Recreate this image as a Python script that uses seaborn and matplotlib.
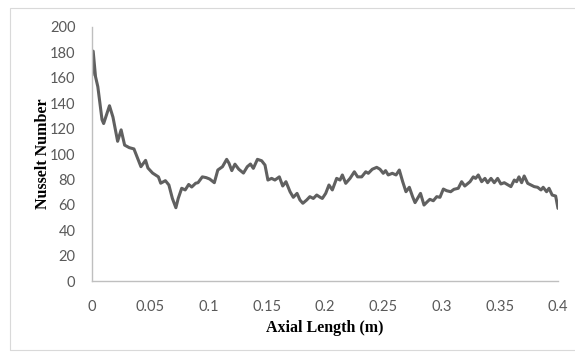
import numpy as np
import pandas as pd
import seaborn as sns
import matplotlib.pyplot as plt
from matplotlib.patches import Rectangle

# Nusselt number along the axial length
axial_length = [0.0, 0.001, 0.003, 0.005, 0.0086, 0.010, 0.015, 0.018, 0.022, 0.025,
                0.028, 0.032, 0.036, 0.042, 0.046, 0.048, 0.052, 0.057, 0.059, 0.063,
                0.066, 0.069, 0.072, 0.074, 0.077, 0.080, 0.083, 0.0856, 0.089, 0.091,
                0.0947, 0.098, 0.101, 0.105, 0.108, 0.112, 0.1156, 0.1176, 0.120, 0.1227,
                0.126, 0.130, 0.1333, 0.136, 0.1385, 0.142, 0.1456, 0.1485, 0.151, 0.1542,
                0.157, 0.1608, 0.1637, 0.1665, 0.170, 0.1728, 0.176, 0.1785, 0.181, 0.1843,
                0.187, 0.190, 0.1929, 0.1957, 0.1977, 0.2006, 0.2034, 0.2063, 0.210, 0.2129,
                0.2149, 0.2178, 0.2215, 0.2252, 0.228, 0.2315, 0.235, 0.2372, 0.2406, 0.2444,
                0.2472, 0.250, 0.252, 0.2543, 0.2578, 0.261, 0.2638, 0.2667, 0.2695, 0.2724,
                0.2752, 0.2773, 0.280, 0.282, 0.285, 0.2878, 0.290, 0.293, 0.2959, 0.2987,
                0.3016, 0.3044, 0.3079, 0.3107, 0.3144, 0.3173, 0.320, 0.3245, 0.3273, 0.3293,
                0.3316, 0.3345, 0.3373, 0.3396, 0.3425, 0.3453, 0.3482, 0.351, 0.3539, 0.3573,
                0.3596, 0.3625, 0.3645, 0.3665, 0.3688, 0.371, 0.374, 0.3768, 0.3796, 0.3825,
                0.3854, 0.3873, 0.3902, 0.3923, 0.395, 0.398, 0.400]
nusselt = [162, 181, 161, 153, 127, 124, 138, 129, 110, 119,
           107, 105, 104, 90, 95, 89, 85, 82, 77, 79,
           75.6, 65, 57.7, 65, 73, 71.7, 76, 74, 77, 77.4,
           82, 81.4, 80.3, 77.4, 87.4, 90, 95.8, 92.7, 86.9, 92,
           88, 85, 90, 92.1, 88.7, 95.8, 94.7, 91.3, 79.5, 80.8,
           79.5, 82, 74.8, 78.2, 70.3, 65.9, 69, 63.8, 61.2, 63.8,
           66.4, 65, 67.7, 66, 65, 69, 75.6, 71.7, 80.8, 79.5,
           83.5, 76.9, 80.8, 86, 82, 82, 86, 84.8, 88, 89.5,
           88, 84.8, 86.9, 83.5, 84.8, 83.5, 87.4, 78.2, 70.3, 73.8,
           66.4, 61.7, 65.9, 69, 59.8, 62.4, 64.3, 63.2, 66.4, 65.9,
           72.4, 71.1, 70.3, 72.2, 73, 78.2, 74.8, 78.2, 82, 80.8,
           83.5, 78.2, 80.8, 77.4, 80.8, 77.4, 80.8, 76.4, 77.4, 75.6,
           74.3, 79.5, 78.2, 82, 77.4, 82.7, 76.9, 75.6, 74.3, 73.8,
           71.7, 73.8, 70.3, 73, 67.7, 66.9, 57.2]
x_ticks = [0, 0.05, 0.1, 0.15, 0.2, 0.25, 0.3, 0.35, 0.4]
x_tick_labels = ["0", "0.05", "0.1", "0.15", "0.2", "0.25", "0.3", "0.35", "0.4"]
y_ticks = list(range(0, 201, 20))

df = pd.DataFrame({"Axial Length (m)": axial_length, "Nusselt Number": nusselt})

sns.set_theme(style="white")
plt.rcParams['font.family'] = ['Lato', 'DejaVu Sans']

fig = plt.figure(figsize=(5.75, 3.52), dpi=100)
ax = fig.add_axes([0.16, 0.2017, 0.8104, 0.7216])

sns.lineplot(data=df, x="Axial Length (m)", y="Nusselt Number", ax=ax,
             color="#606060", linewidth=2.2, solid_capstyle="round", solid_joinstyle="round")

ax.set_xlim(0, 0.4)
ax.set_ylim(0, 200)
ax.set_xticks(x_ticks)
ax.set_xticklabels(x_tick_labels)
ax.set_yticks(y_ticks)
ax.tick_params(axis="both", length=0, labelsize=10.5, labelcolor="#595959")
ax.tick_params(axis="x", pad=14)
ax.tick_params(axis="y", pad=12)

for side in ["top", "right"]:
    ax.spines[side].set_visible(False)
for side in ["left", "bottom"]:
    ax.spines[side].set_color("#BFBFBF")
    ax.spines[side].set_linewidth(1.0)

label_font = dict(family="Liberation Serif", weight="bold", size=11.5, color="black")
ax.set_xlabel("Axial Length (m)", labelpad=4, **label_font)
ax.set_ylabel("Nusselt Number", **label_font)
ax.yaxis.set_label_coords(-0.088, 0.5)

# thin border around the chart area (right edge runs off the image)
fig.patches.append(Rectangle((10 / 575, 2 / 352), 580 / 575, 342 / 352, transform=fig.transFigure,
                             fill=False, edgecolor="#D9D9D9", linewidth=0.8))

fig.savefig("out.png", dpi=100)
plt.close()
